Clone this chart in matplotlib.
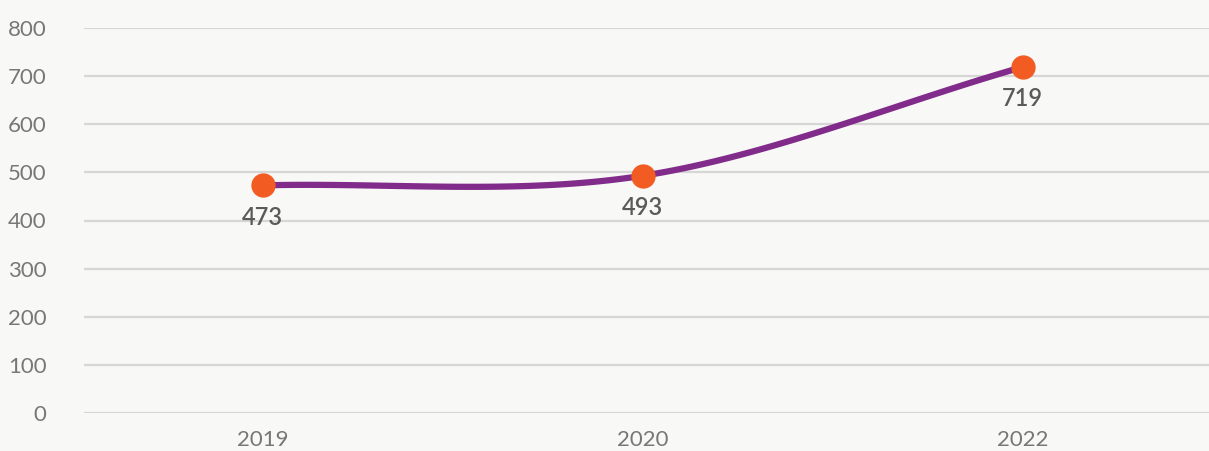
import numpy as np
import matplotlib.pyplot as plt

# data
years = ["2019", "2020", "2022"]
values = [473, 493, 719]
yticks = [0, 100, 200, 300, 400, 500, 600, 700, 800]

plt.rcParams['font.family'] = ['Lato', 'DejaVu Sans']

bg = "#f8f8f6"
fig = plt.figure(figsize=(12.09, 4.51), dpi=100, facecolor=bg)
ax = fig.add_axes([84/1209, 38/451, 1 - 84/1209, 385/451], facecolor=bg)

# smooth path through the points (Catmull-Rom, end tangents = end chords)
x = np.arange(len(values), dtype=float)
y = np.array(values, dtype=float)
m = np.empty_like(y)
m[1:-1] = (y[2:] - y[:-2]) / 2
m[0] = y[1] - y[0]
m[-1] = y[-1] - y[-2]
xs, ys = [], []
for i in range(len(y) - 1):
    t = np.linspace(0, 1, 60)
    h00 = 2*t**3 - 3*t**2 + 1
    h10 = t**3 - 2*t**2 + t
    h01 = -2*t**3 + 3*t**2
    h11 = t**3 - t**2
    xs.append(x[i] + t)
    ys.append(h00*y[i] + h10*m[i] + h01*y[i+1] + h11*m[i+1])
xs = np.concatenate(xs)
ys = np.concatenate(ys)

ax.plot(xs, ys, color="#812b8b", lw=4.5, solid_capstyle="round", zorder=3)
ax.plot(x, y, "o", color="#f25c23", markersize=16.5, zorder=4)

for xi, v in zip(x, values):
    ax.annotate(str(v), (xi, v), xytext=(0, -23), textcoords="offset points",
                ha="center", va="center", fontsize=17, color="#5a5a5a",
                fontweight="semibold", zorder=5)

ax.set_xlim(-0.47, 2.49)
ax.set_ylim(0, 800)
ax.set_yticks(yticks)
ax.set_xticks(x)
ax.set_xticklabels(years)
ax.grid(axis="y", color="#d6d6d6", lw=1.6, zorder=0)
ax.set_axisbelow(True)
for s in ax.spines.values():
    s.set_visible(False)
ax.tick_params(axis="both", length=0, labelsize=16, labelcolor="#777777")
ax.tick_params(axis="y", pad=27)
ax.tick_params(axis="x", pad=12)

fig.savefig("out.png", dpi=100, facecolor=bg)
